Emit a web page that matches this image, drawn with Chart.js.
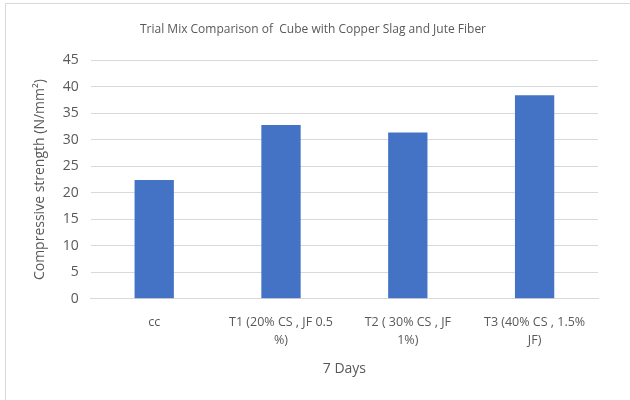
<!DOCTYPE html>
<html>
<head>
<meta charset="utf-8">
<script src="https://cdn.jsdelivr.net/npm/chart.js@4"></script>
<style>
  body { margin: 0; background: #fff; }
  #wrap { position: relative; width: 630px; height: 400px; }
  #frame { position: absolute; left: 5px; top: 3px; width: 640px; height: 410px; border: 1px solid #d9d9d9; }
  canvas { position: absolute; left: 0; top: 0; }
</style>
</head>
<body>
<div id="wrap">
  <div id="frame"></div>
  <canvas id="myChart" width="630" height="400"></canvas>
</div>
<script>
const labels = [
  'cc',
  ['T1 (20% CS , JF 0.5', '%)'],
  ['T2 ( 30% CS , JF', '1%)'],
  ['T3 (40% CS , 1.5%', 'JF)']
];
const values = [22.4, 32.8, 31.4, 38.4];
const yTicks = [0, 5, 10, 15, 20, 25, 30, 35, 40, 45];

const font = "'Open Sans', 'Noto Sans', sans-serif";
const grey = '#595959';

const drawChart = () => {
  const ctx = document.getElementById('myChart').getContext('2d');
  new Chart(ctx, {
    type: 'bar',
    data: {
      labels: labels,
      datasets: [
        {
          backgroundColor: '#4472c4',
          label: '7 Days',
          data: values,
          barPercentage: 0.31,
          categoryPercentage: 1
        }
      ]
    },
    options: {
      responsive: false,
      animation: false,
      layout: { padding: { left: 28, right: 32, top: 22, bottom: 19 } },
      plugins: {
        legend: { display: false },
        tooltip: { enabled: false },
        title: {
          display: true,
          text: 'Trial Mix Comparison of  Cube with Copper Slag and Jute Fiber',
          color: grey,
          font: { family: font, size: 12, weight: 'normal' },
          padding: { top: 0, bottom: 24 }
        }
      },
      scales: {
        x: {
          grid: { display: false },
          border: { color: '#d9d9d9' },
          ticks: {
            color: grey,
            font: { family: font, size: 12.5, lineHeight: 1.5 },
            maxRotation: 0,
            autoSkip: false,
            padding: 6
          },
          title: {
            display: true,
            text: '7 Days',
            color: grey,
            font: { family: font, size: 14 },
            padding: { top: 4 }
          }
        },
        y: {
          min: 0,
          max: 45,
          afterBuildTicks: axis => { axis.ticks = yTicks.map(v => ({ value: v })); },
          grid: { color: '#d9d9d9', drawTicks: false },
          border: { display: false },
          ticks: {
            color: grey,
            font: { family: font, size: 14 },
            padding: 12
          },
          title: {
            display: true,
            text: 'Compressive strength (N/mm²)',
            color: grey,
            font: { family: font, size: 14 },
            padding: { bottom: 2 }
          }
        }
      }
    }
  });
};
drawChart();
</script>
</body>
</html>
